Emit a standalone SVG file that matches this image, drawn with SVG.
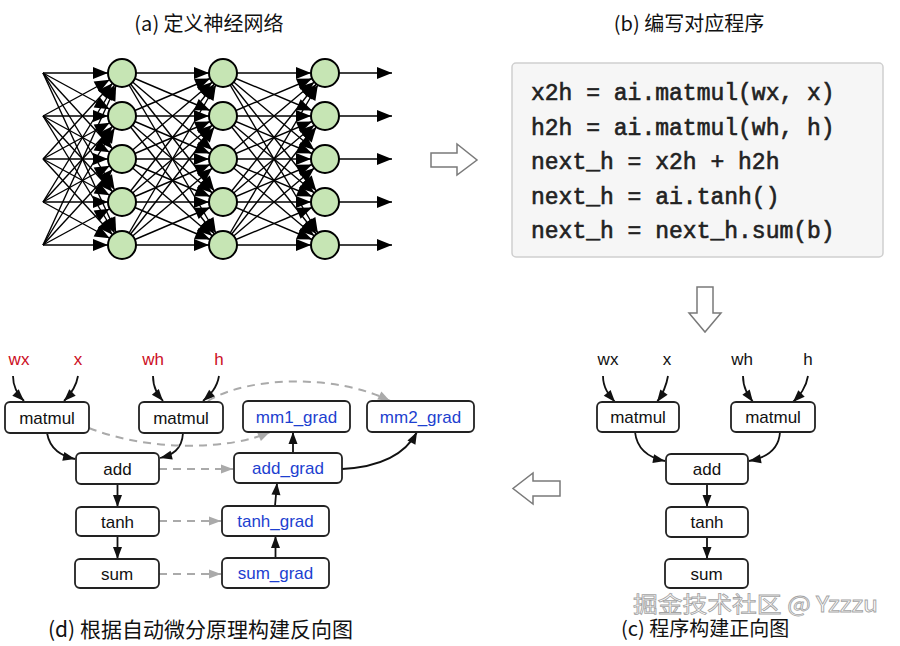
<svg xmlns="http://www.w3.org/2000/svg" width="900" height="646" viewBox="0 0 900 646">
<style>
.t{font-family:"Noto Sans CJK SC","Noto Sans",sans-serif;fill:#111}
.nn line{stroke:#000;stroke-width:1.4}
.nn .e{marker-end:url(#nnh)}
.nn .o{marker-end:url(#nno)}
.neuron{fill:#c6e5b4;stroke:#000;stroke-width:2}
.code{font-family:"Liberation Mono",monospace;font-size:23px;fill:#222;stroke:#222;stroke-width:0.6}
.hol{fill:#fff;stroke:#7a7a7a;stroke-width:1.5}
.box{fill:#fff;stroke:#222;stroke-width:1.8}
.lbl{font-family:"Liberation Sans",Arial,sans-serif;font-size:17px;text-anchor:middle;fill:#111}
.blue{fill:#1d3fd0}
.red{fill:#cc0e1e}
.c{fill:none;stroke:#111;stroke-width:1.8;marker-end:url(#arr)}
.d{fill:none;stroke:#aaa;stroke-width:2;stroke-dasharray:8 6;marker-end:url(#arrg)}
</style>
<defs>
<marker id="nnh" markerUnits="userSpaceOnUse" markerWidth="15" markerHeight="12" refX="29" refY="6" orient="auto" overflow="visible"><path d="M0,0 L15,6 L0,12 z" fill="#000"/></marker>
<marker id="nno" markerUnits="userSpaceOnUse" markerWidth="15" markerHeight="12" refX="15" refY="6" orient="auto" overflow="visible"><path d="M0,0 L15,6 L0,12 z" fill="#000"/></marker>
<marker id="arr" markerUnits="userSpaceOnUse" markerWidth="12" markerHeight="9" refX="12" refY="4.5" orient="auto" overflow="visible"><path d="M0,0 L12,4.5 L0,9 z" fill="#111"/></marker>
<marker id="arrg" markerUnits="userSpaceOnUse" markerWidth="12" markerHeight="9" refX="12" refY="4.5" orient="auto" overflow="visible"><path d="M0,0 L12,4.5 L0,9 z" fill="#aaa"/></marker>
</defs>
<rect width="900" height="646" fill="#fff"/>

<!-- titles -->
<text class="t" x="209" y="31" font-size="20" text-anchor="middle">(a) 定义神经网络</text>
<text class="t" x="689" y="31" font-size="20" text-anchor="middle">(b) 编写对应程序</text>
<text class="t" x="48" y="637" font-size="21">(d) 根据自动微分原理构建反向图</text>
<text class="t" x="621" y="636" font-size="20">(c) 程序构建正向图</text>

<!-- (a) neural network -->
<g id="nn" class="nn">
<g id="nn-connectors">
<line class="e" x1="43" y1="73" x2="122" y2="73"/><line class="e" x1="43" y1="73" x2="122" y2="116"/><line class="e" x1="43" y1="73" x2="122" y2="159"/><line class="e" x1="43" y1="73" x2="122" y2="202"/><line class="e" x1="43" y1="73" x2="122" y2="245"/>
<line class="e" x1="43" y1="116" x2="122" y2="73"/><line class="e" x1="43" y1="116" x2="122" y2="116"/><line class="e" x1="43" y1="116" x2="122" y2="159"/><line class="e" x1="43" y1="116" x2="122" y2="202"/><line class="e" x1="43" y1="116" x2="122" y2="245"/>
<line class="e" x1="43" y1="159" x2="122" y2="73"/><line class="e" x1="43" y1="159" x2="122" y2="116"/><line class="e" x1="43" y1="159" x2="122" y2="159"/><line class="e" x1="43" y1="159" x2="122" y2="202"/><line class="e" x1="43" y1="159" x2="122" y2="245"/>
<line class="e" x1="43" y1="202" x2="122" y2="73"/><line class="e" x1="43" y1="202" x2="122" y2="116"/><line class="e" x1="43" y1="202" x2="122" y2="159"/><line class="e" x1="43" y1="202" x2="122" y2="202"/><line class="e" x1="43" y1="202" x2="122" y2="245"/>
<line class="e" x1="43" y1="245" x2="122" y2="73"/><line class="e" x1="43" y1="245" x2="122" y2="116"/><line class="e" x1="43" y1="245" x2="122" y2="159"/><line class="e" x1="43" y1="245" x2="122" y2="202"/><line class="e" x1="43" y1="245" x2="122" y2="245"/>

<line class="e" x1="122" y1="73" x2="223" y2="73"/><line class="e" x1="122" y1="73" x2="223" y2="116"/><line class="e" x1="122" y1="73" x2="223" y2="159"/><line class="e" x1="122" y1="73" x2="223" y2="202"/><line class="e" x1="122" y1="73" x2="223" y2="245"/>
<line class="e" x1="122" y1="116" x2="223" y2="73"/><line class="e" x1="122" y1="116" x2="223" y2="116"/><line class="e" x1="122" y1="116" x2="223" y2="159"/><line class="e" x1="122" y1="116" x2="223" y2="202"/><line class="e" x1="122" y1="116" x2="223" y2="245"/>
<line class="e" x1="122" y1="159" x2="223" y2="73"/><line class="e" x1="122" y1="159" x2="223" y2="116"/><line class="e" x1="122" y1="159" x2="223" y2="159"/><line class="e" x1="122" y1="159" x2="223" y2="202"/><line class="e" x1="122" y1="159" x2="223" y2="245"/>
<line class="e" x1="122" y1="202" x2="223" y2="73"/><line class="e" x1="122" y1="202" x2="223" y2="116"/><line class="e" x1="122" y1="202" x2="223" y2="159"/><line class="e" x1="122" y1="202" x2="223" y2="202"/><line class="e" x1="122" y1="202" x2="223" y2="245"/>
<line class="e" x1="122" y1="245" x2="223" y2="73"/><line class="e" x1="122" y1="245" x2="223" y2="116"/><line class="e" x1="122" y1="245" x2="223" y2="159"/><line class="e" x1="122" y1="245" x2="223" y2="202"/><line class="e" x1="122" y1="245" x2="223" y2="245"/>

<line class="e" x1="223" y1="73" x2="325" y2="73"/><line class="e" x1="223" y1="73" x2="325" y2="116"/><line class="e" x1="223" y1="73" x2="325" y2="159"/><line class="e" x1="223" y1="73" x2="325" y2="202"/><line class="e" x1="223" y1="73" x2="325" y2="245"/>
<line class="e" x1="223" y1="116" x2="325" y2="73"/><line class="e" x1="223" y1="116" x2="325" y2="116"/><line class="e" x1="223" y1="116" x2="325" y2="159"/><line class="e" x1="223" y1="116" x2="325" y2="202"/><line class="e" x1="223" y1="116" x2="325" y2="245"/>
<line class="e" x1="223" y1="159" x2="325" y2="73"/><line class="e" x1="223" y1="159" x2="325" y2="116"/><line class="e" x1="223" y1="159" x2="325" y2="159"/><line class="e" x1="223" y1="159" x2="325" y2="202"/><line class="e" x1="223" y1="159" x2="325" y2="245"/>
<line class="e" x1="223" y1="202" x2="325" y2="73"/><line class="e" x1="223" y1="202" x2="325" y2="116"/><line class="e" x1="223" y1="202" x2="325" y2="159"/><line class="e" x1="223" y1="202" x2="325" y2="202"/><line class="e" x1="223" y1="202" x2="325" y2="245"/>
<line class="e" x1="223" y1="245" x2="325" y2="73"/><line class="e" x1="223" y1="245" x2="325" y2="116"/><line class="e" x1="223" y1="245" x2="325" y2="159"/><line class="e" x1="223" y1="245" x2="325" y2="202"/><line class="e" x1="223" y1="245" x2="325" y2="245"/>

<line class="o" x1="325" y1="73" x2="392" y2="73"/><line class="o" x1="325" y1="116" x2="392" y2="116"/><line class="o" x1="325" y1="159" x2="392" y2="159"/><line class="o" x1="325" y1="202" x2="392" y2="202"/><line class="o" x1="325" y1="245" x2="392" y2="245"/>
</g>
<g id="layer1"><circle class="neuron" cx="122" cy="73" r="14"/><circle class="neuron" cx="122" cy="116" r="14"/><circle class="neuron" cx="122" cy="159" r="14"/><circle class="neuron" cx="122" cy="202" r="14"/><circle class="neuron" cx="122" cy="245" r="14"/></g>
<g id="layer2"><circle class="neuron" cx="223" cy="73" r="14"/><circle class="neuron" cx="223" cy="116" r="14"/><circle class="neuron" cx="223" cy="159" r="14"/><circle class="neuron" cx="223" cy="202" r="14"/><circle class="neuron" cx="223" cy="245" r="14"/></g>
<g id="layer3"><circle class="neuron" cx="325" cy="73" r="14"/><circle class="neuron" cx="325" cy="116" r="14"/><circle class="neuron" cx="325" cy="159" r="14"/><circle class="neuron" cx="325" cy="202" r="14"/><circle class="neuron" cx="325" cy="245" r="14"/></g>
</g>

<!-- (b) code -->
<g id="code">
<rect x="512" y="63" width="371" height="194" rx="4" fill="#f6f6f6" stroke="#cfcfcf" stroke-width="1.5"/>
<text class="code" x="531" y="100">x2h = ai.matmul(wx, x)</text>
<text class="code" x="531" y="134.5">h2h = ai.matmul(wh, h)</text>
<text class="code" x="531" y="169">next_h = x2h + h2h</text>
<text class="code" x="531" y="203.5">next_h = ai.tanh()</text>
<text class="code" x="531" y="238">next_h = next_h.sum(b)</text>
</g>

<!-- hollow arrows -->
<g id="hollow-arrows">
<polygon class="hol" points="431,153 457,153 457,144 477,160 457,175 457,167 431,167"/>
<polygon class="hol" points="697,287 713,287 713,313 721,313 705,332 689,313 697,313"/>
<polygon class="hol" points="560,481 533,481 533,473 513,488.5 533,504 533,496 560,496"/>
</g>

<!-- (d) backward graph -->
<g id="graph-d">
<g id="d-connectors">
<path class="c" d="M13,376 C13,388 18,395 24,401"/>
<path class="c" d="M78,376 C76,388 70,395 64,401"/>
<path class="c" d="M153,376 C153,388 158,395 163,401"/>
<path class="c" d="M219,376 C217,388 210,395 203,401"/>
<path class="c" d="M47,433 C50,450 62,456 75,459"/>
<path class="c" d="M183,433 C182,450 172,455 160,458"/>
<line class="c" x1="117.5" y1="484" x2="117.5" y2="507"/>
<line class="c" x1="117.5" y1="536" x2="117.5" y2="559"/>
<line class="c" x1="275.5" y1="558" x2="275.5" y2="536"/>
<line class="c" x1="275" y1="506" x2="277" y2="483"/>
<line class="c" x1="293" y1="453" x2="293" y2="432"/>
<path class="c" d="M342,469 C380,467 405,455 417,432"/>
<line class="d" x1="159" y1="469" x2="233" y2="469"/>
<line class="d" x1="159" y1="521" x2="221" y2="521"/>
<line class="d" x1="159" y1="574" x2="221" y2="574"/>
<path class="d" d="M89,428 C150,452 230,450 270,432"/>
<path class="d" d="M208,401 C250,375 340,375 390,401"/>
</g>
<g id="d-wx"><text class="lbl red" x="19" y="365">wx</text></g>
<g id="d-x"><text class="lbl red" x="78" y="365">x</text></g>
<g id="d-wh"><text class="lbl red" x="153" y="365">wh</text></g>
<g id="d-h"><text class="lbl red" x="219" y="365">h</text></g>
<g id="d-matmul1"><rect class="box" x="5" y="402" width="84" height="31" rx="5"/><text class="lbl" x="47" y="423.5">matmul</text></g>
<g id="d-matmul2"><rect class="box" x="139" y="402" width="84" height="31" rx="5"/><text class="lbl" x="181" y="423.5">matmul</text></g>
<g id="d-add"><rect class="box" x="76" y="453" width="83" height="31" rx="5"/><text class="lbl" x="117.5" y="474.5">add</text></g>
<g id="d-tanh"><rect class="box" x="76" y="507" width="83" height="29" rx="5"/><text class="lbl" x="117.5" y="527.5">tanh</text></g>
<g id="d-sum"><rect class="box" x="75" y="559" width="84" height="29" rx="5"/><text class="lbl" x="117" y="579.5">sum</text></g>
<g id="d-mm1grad"><rect class="box" x="243" y="401" width="107" height="31" rx="5"/><text class="lbl blue" x="296.5" y="422.5">mm1_grad</text></g>
<g id="d-mm2grad"><rect class="box" x="367" y="401" width="107" height="31" rx="5"/><text class="lbl blue" x="420.5" y="422.5">mm2_grad</text></g>
<g id="d-addgrad"><rect class="box" x="234" y="453" width="108" height="30" rx="5"/><text class="lbl blue" x="288" y="474">add_grad</text></g>
<g id="d-tanhgrad"><rect class="box" x="222" y="506" width="107" height="30" rx="5"/><text class="lbl blue" x="275.5" y="527">tanh_grad</text></g>
<g id="d-sumgrad"><rect class="box" x="222" y="558" width="107" height="30" rx="5"/><text class="lbl blue" x="275.5" y="579">sum_grad</text></g>
</g>

<!-- (c) forward graph -->
<g id="graph-c">
<g id="c-connectors">
<path class="c" d="M603,376 C603,388 609,395 615,402"/>
<path class="c" d="M668,376 C666,388 662,395 657,402"/>
<path class="c" d="M743,376 C743,388 748,395 753,402"/>
<path class="c" d="M808,376 C806,388 800,395 793,402"/>
<path class="c" d="M635,432 C637,450 650,458 665,461"/>
<path class="c" d="M780,432 C779,450 765,458 749,461"/>
<line class="c" x1="707" y1="484" x2="707" y2="507"/>
<line class="c" x1="707" y1="537" x2="707" y2="559"/>
</g>
<g id="c-wx"><text class="lbl" x="608" y="365">wx</text></g>
<g id="c-x"><text class="lbl" x="667" y="365">x</text></g>
<g id="c-wh"><text class="lbl" x="742" y="365">wh</text></g>
<g id="c-h"><text class="lbl" x="808" y="365">h</text></g>
<g id="c-matmul1"><rect class="box" x="597" y="402" width="82" height="30" rx="5"/><text class="lbl" x="638" y="423">matmul</text></g>
<g id="c-matmul2"><rect class="box" x="731" y="402" width="84" height="30" rx="5"/><text class="lbl" x="773" y="423">matmul</text></g>
<g id="c-add"><rect class="box" x="666" y="454" width="82" height="30" rx="5"/><text class="lbl" x="707" y="475">add</text></g>
<g id="c-tanh"><rect class="box" x="666" y="507" width="82" height="30" rx="5"/><text class="lbl" x="707" y="528">tanh</text></g>
<g id="c-sum"><rect class="box" x="665" y="559" width="83" height="29" rx="5"/><text class="lbl" x="706.5" y="580">sum</text></g>
</g>

<!-- watermark -->
<text class="t" x="633" y="612" font-size="22" textLength="245" lengthAdjust="spacingAndGlyphs" style="fill:#fff" stroke="#9a9a9a" stroke-width="0.8" opacity="0.9">掘金技术社区 @ Yzzzu</text>
</svg>
